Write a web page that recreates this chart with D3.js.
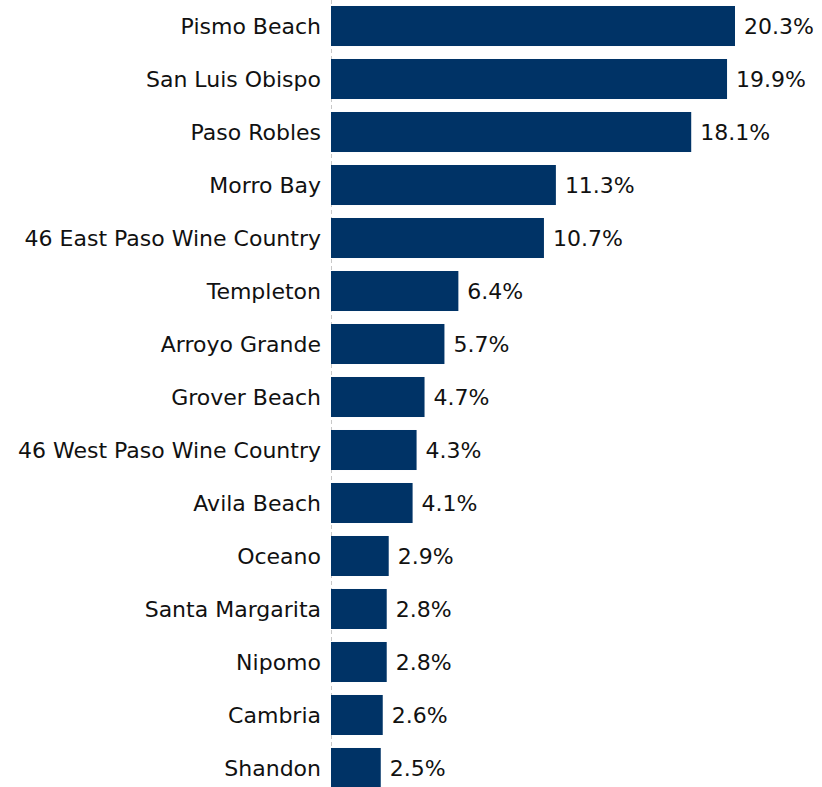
<!DOCTYPE html>
<html>
<head>
<meta charset="utf-8">
<script src="https://cdn.jsdelivr.net/npm/d3@7"></script>
<style>
  body { margin: 0; background: #fff; }
  svg text { font-family: "DejaVu Sans", Verdana, sans-serif; fill: #111; }
</style>
</head>
<body>
<svg id="chart"></svg>
<script>
var svgWidth = 822;
var svgHeight = 787;

var places = ['Pismo Beach', 'San Luis Obispo', 'Paso Robles', 'Morro Bay', '46 East Paso Wine Country',
  'Templeton', 'Arroyo Grande', 'Grover Beach', '46 West Paso Wine Country', 'Avila Beach',
  'Oceano', 'Santa Margarita', 'Nipomo', 'Cambria', 'Shandon'];
var shares = [20.3, 19.9, 18.1, 11.3, 10.7, 6.4, 5.7, 4.7, 4.3, 4.1, 2.9, 2.8, 2.8, 2.6, 2.5];

var axisX = 331;

var svg = d3.select('#chart').attr('width', svgWidth).attr('height', svgHeight);

var xScale = d3.scaleLinear().domain([0, 20.3]).range([0, 404]);
var yScale = d3.scaleBand().domain(places).range([-0.5, 794.5])
  .paddingInner(0.245).paddingOuter(0.1226);

// dashed baseline
svg.append('line')
  .attr('x1', axisX + 0.5).attr('x2', axisX + 0.5)
  .attr('y1', 0).attr('y2', svgHeight)
  .attr('stroke', '#c8c8c8').attr('stroke-width', 1)
  .attr('stroke-dasharray', '4,3');

var rows = svg.append('g').attr('id', 'bars')
  .selectAll('g').data(places).enter().append('g');

rows.append('rect')
  .attr('x', axisX)
  .attr('y', function (d) { return yScale(d); })
  .attr('width', function (d, i) { return xScale(shares[i]); })
  .attr('height', yScale.bandwidth())
  .attr('fill', '#003366');

rows.append('text')
  .attr('x', axisX - 10)
  .attr('y', function (d) { return yScale(d) + yScale.bandwidth() / 2; })
  .attr('dy', '0.36em')
  .attr('text-anchor', 'end')
  .style('font-size', '22px')
  .text(function (d) { return d; });

rows.append('text')
  .attr('x', function (d, i) { return axisX + xScale(shares[i]) + 9; })
  .attr('y', function (d) { return yScale(d) + yScale.bandwidth() / 2; })
  .attr('dy', '0.36em')
  .style('font-size', '22px')
  .text(function (d, i) { return shares[i].toFixed(1) + '%'; });
</script>
</body>
</html>
